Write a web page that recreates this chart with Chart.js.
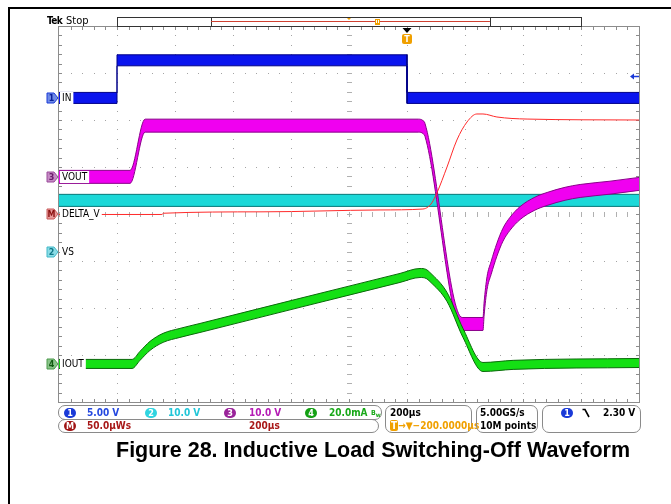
<!DOCTYPE html>
<html>
<head>
<meta charset="utf-8">
<title>Inductive Load Switching-Off Waveform</title>
<script src="https://cdn.jsdelivr.net/npm/chart.js@4.4.1/dist/chart.umd.min.js"></script>
<style>
  body { margin: 0; background: #fff; }
  #wrap { position: relative; width: 671px; height: 504px; overflow: hidden;
          font-family: "DejaVu Sans Condensed", "DejaVu Sans", sans-serif; }
  #scope { position: absolute; left: 0; top: 0; }
  .frame { position: absolute; left: 8px; top: 7px; width: 700px; height: 600px;
           border-left: 2px solid #000; border-top: 2px solid #000; }
  .box { position: absolute; border: 1px solid #8a8a8a; border-radius: 7px; box-sizing: border-box; }
  .t { position: absolute; font-size: 10px; font-weight: bold; line-height: 12px; white-space: nowrap;
       font-stretch: condensed; }
  .dot { position: absolute; width: 12px; height: 10px; border-radius: 6px; color: #fff; text-align: center;
         font-size: 9px; line-height: 10px; font-weight: bold; }
  #title { position: absolute; left: 116px; top: 440px; white-space: nowrap;
           font: bold 21.5px "Liberation Sans", Arial, sans-serif; line-height: 21px; }
</style>
</head>
<body>
<div id="wrap">
  <div class="frame"></div>
  <canvas id="scope" width="671" height="504"></canvas>

  <div class="t" style="left:47px;top:15px;font-size:10px;letter-spacing:-0.6px;">Tek</div>
  <div class="t" style="left:66px;top:15px;font-size:11px;font-weight:normal;font-family:'DejaVu Sans';">Stop</div>

  <!-- réglages des voies -->
  <div class="box" style="left:58px;top:405px;width:324px;height:15px;"></div>
  <div class="box" style="left:58px;top:419px;width:321px;height:14px;"></div>
  <div class="dot" style="left:64px;top:408px;background:#1a3ad8;">1</div>
  <div class="t" style="left:87px;top:407px;color:#2448e0;">5.00 V</div>
  <div class="dot" style="left:145px;top:408px;background:#30d4e0;">2</div>
  <div class="t" style="left:168px;top:407px;color:#22c6d8;">10.0 V</div>
  <div class="dot" style="left:224px;top:408px;background:#9a249a;">3</div>
  <div class="t" style="left:249px;top:407px;color:#b41cb4;">10.0 V</div>
  <div class="dot" style="left:305px;top:408px;background:#14a014;">4</div>
  <div class="t" style="left:329px;top:407px;color:#18a818;">20.0mA</div>
  <div class="t" style="left:371px;top:407px;color:#18a818;font-size:7px;">B<sub style="font-size:6px">w</sub></div>
  <div class="dot" style="left:64px;top:421px;background:#a01414;">M</div>
  <div class="t" style="left:87px;top:420px;color:#a81818;">50.0µWs</div>
  <div class="t" style="left:249px;top:420px;color:#a81818;">200µs</div>

  <!-- base de temps -->
  <div class="box" style="left:385px;top:405px;width:87px;height:28px;"></div>
  <div class="t" style="left:390px;top:407px;color:#000;">200µs</div>
  <div class="t" style="left:390px;top:420px;color:#f0a000;"><span style="background:#f0a000;color:#fff;border-radius:2px;padding:0 1px;">T</span>→▼−200.0000µs</div>
  <div class="box" style="left:476px;top:405px;width:62px;height:28px;"></div>
  <div class="t" style="left:480px;top:407px;color:#000;">5.00GS/s</div>
  <div class="t" style="left:480px;top:420px;color:#000;">10M points</div>

  <!-- déclenchement -->
  <div class="box" style="left:542px;top:405px;width:99px;height:28px;"></div>
  <div class="dot" style="left:561px;top:408px;background:#1a3ad8;">1</div>
  <svg style="position:absolute;left:582px;top:408px;" width="9" height="10"><path d="M0.5 1.5 H3 L7 9" stroke="#000" stroke-width="1.6" fill="none"/></svg>
  <div class="t" style="left:603px;top:407px;color:#000;">2.30 V</div>

  <div id="title">Figure 28. Inductive Load Switching-Off Waveform</div>
</div>

<script>
// Base de temps : 200 µs/div, déclenchement à t = 0, écran de -1200 µs à +800 µs
const timeMin = -1200;
const timeMax = 800;

// Réglages des voies : unités/div et position (div depuis le centre de l'écran)
const ch1Scale = 5,   ch1Pos = 2.47;   // IN (V)
const ch2Scale = 10,  ch2Pos = -0.81;  // VS (V)
const ch3Scale = 10,  ch3Pos = 0.79;   // VOUT (V)
const ch4Scale = 20,  ch4Pos = -3.19;  // IOUT (mA)
const mathScale = 50, mathPos = 0;     // DELTA_V (µWs)
const trigLevel = 2.30;                // V sur la voie 1

// Voie 1 : IN
const inTime = [-1200, -1000, -1000, 0, 0, 800];
const inVolt = [0, 0, 4.0, 4.0, 0, 0];

// Voie 2 : VS
const vsTime = [-1200, 800];
const vsVolt = [11.0, 11.0];

// Voie 3 : VOUT
const voutTime = [-1200, -955, -903, 40, 55, 62, 190, 262, 266, 276, 290, 310, 331, 355, 390, 441, 483, 545, 597, 700, 800];
const voutVolt = [0, 0, 10.9, 10.9, 10.6, 10.0, -31.3, -31.3, -28, -22.6, -19.4, -15.5, -12.3, -10.0, -7.7, -5.7, -4.7, -3.6, -3.0, -2.3, -1.5];

// Voie 4 : IOUT
const ioutTime = [-1200, -948, -921, -886, -841, -783, -714, -369, -24, 45, 66, 79, 138, 193, 262, 366, 800];
const ioutMA   = [0, 0, 3.4, 7.7, 11.1, 13.2, 15.3, 26.0, 36.6, 38.7, 38.3, 37.0, 28.5, 13.2, -1.3, -0.4, 0.4];

// Math : DELTA_V
const dvTime = [-1200, -845, -840, -500, -93, 55, 72, 86, 103, 138, 172, 207, 241, 262, 310, 414, 800];
const dvVal  = [-0.5, -0.5, 0.8, 2.3, 4.3, 5.3, 7.4, 12, 22.3, 50, 78.7, 97.9, 106.4, 106.4, 103.2, 101, 100];

// Repères à gauche de l'écran
const chMarkers = [
  { name: 'IN',      num: '1', axis: 'y1', fill: '#6f8be6', edge: '#1a3ad8', ink: '#0a1f9a' },
  { name: 'VOUT',    num: '3', axis: 'y3', fill: '#c48ac4', edge: '#9a4a9a', ink: '#6a1a6a' },
  { name: 'DELTA_V', num: 'M', axis: 'ym', fill: '#e89a9a', edge: '#c85a5a', ink: '#8a1010' },
  { name: 'VS',      num: '2', axis: 'y2', fill: '#8adce6', edge: '#40b8c8', ink: '#107888' },
  { name: 'IOUT',    num: '4', axis: 'y4', fill: '#8ac48a', edge: '#4a9a4a', ink: '#105a10' }
];

function axisRange(scale, pos) {
  return { type: 'linear', display: false, min: (-4 - pos) * scale, max: (4 - pos) * scale };
}

function toPoints(xs, ys, off) {
  return xs.map((x, i) => ({ x: x, y: ys[i] + off }));
}

// Trace "bruitée" : bande remplie entre deux enveloppes (demi-largeur en unités de la voie)
function bandDatasets(label, xs, ys, half, axis, fillCol, edgeCol, mode) {
  const common = { yAxisID: axis, borderColor: edgeCol, borderWidth: 1, pointRadius: 0,
                   cubicInterpolationMode: mode, tension: 0 };
  return [
    Object.assign({ label: label + ' haut', data: toPoints(xs, ys, half), fill: false }, common),
    Object.assign({ label: label + ' bas', data: toPoints(xs, ys, -half), fill: '-1', backgroundColor: fillCol }, common)
  ];
}

// Réticule de l'oscilloscope
const graticule = {
  id: 'graticule',
  beforeDatasetsDraw(chart) {
    const { ctx, chartArea: a } = chart;
    const w = a.right - a.left, h = a.bottom - a.top;
    const dx = w / 10, dy = h / 8;
    ctx.save();
    ctx.fillStyle = '#a4a4a4';
    for (let i = 1; i < 10; i++) {
      const x = Math.round(a.left + i * dx);
      for (let j = 0; j <= 40; j++) ctx.fillRect(x, Math.round(a.top + j * dy / 5), 1, 1);
    }
    for (let i = 1; i < 8; i++) {
      const y = Math.round(a.top + i * dy);
      for (let j = 0; j <= 50; j++) ctx.fillRect(Math.round(a.left + j * dx / 5), y, 1, 1);
    }
    // axes centraux avec graduations
    const cx = Math.round(a.left + 5 * dx), cy = Math.round(a.top + 4 * dy);
    ctx.fillStyle = '#b0b0b0';
    for (let j = 0; j <= 40; j++) ctx.fillRect(cx - 2, Math.round(a.top + j * dy / 5), 5, 1);
    for (let j = 0; j <= 50; j++) ctx.fillRect(Math.round(a.left + j * dx / 5), cy - 2, 1, 5);
    // cadre et graduations du bord
    ctx.fillStyle = '#8c8c8c';
    ctx.fillRect(a.left - 1, a.top, 1, h + 1);
    ctx.fillRect(a.right, a.top, 1, h + 1);
    ctx.fillRect(a.left - 1, a.top, w + 2, 1);
    ctx.fillRect(a.left - 1, a.bottom, w + 2, 1);
    for (let j = 1; j < 40; j++) {
      const y = Math.round(a.top + j * dy / 5);
      ctx.fillRect(a.left, y, 3, 1);
      ctx.fillRect(a.right - 3, y, 3, 1);
    }
    for (let j = 1; j < 50; j++) {
      const x = Math.round(a.left + j * dx / 5);
      ctx.fillRect(x, a.top + 1, 1, 3);
      ctx.fillRect(x, a.bottom - 3, 1, 3);
    }
    ctx.restore();
  }
};

// Repères de voies, déclenchement, barre d'enregistrement
const overlay = {
  id: 'overlay',
  afterDatasetsDraw(chart) {
    const { ctx, chartArea: a, scales } = chart;
    const dx = (a.right - a.left) / 10;
    ctx.save();

    // barre d'enregistrement en haut
    const bl = a.left + dx, br = a.left + 9 * dx, bt = a.top - 9;
    ctx.fillStyle = '#fff';
    ctx.fillRect(bl, bt, br - bl, 9);
    ctx.strokeStyle = '#333';
    ctx.lineWidth = 1;
    ctx.strokeRect(bl + 0.5, bt + 0.5, br - bl, 9);
    const il = a.left + 2.62 * dx, ir = a.left + 7.43 * dx;
    ctx.beginPath();
    ctx.moveTo(Math.round(il) + 0.5, bt); ctx.lineTo(Math.round(il) + 0.5, bt + 9);
    ctx.moveTo(Math.round(ir) + 0.5, bt); ctx.lineTo(Math.round(ir) + 0.5, bt + 9);
    ctx.stroke();
    ctx.strokeStyle = '#d04030';
    ctx.beginPath();
    ctx.moveTo(il, bt + 4.5); ctx.lineTo(ir, bt + 4.5);
    ctx.stroke();
    ctx.fillStyle = '#f0a000';
    const mc = a.left + 5 * dx;
    ctx.beginPath();
    ctx.moveTo(mc - 2, bt + 1); ctx.lineTo(mc + 2, bt + 1); ctx.lineTo(mc, bt + 3); ctx.fill();
    const hx = Math.round(a.left + 5.48 * dx);
    ctx.fillRect(hx - 2, bt + 2, 5, 6);
    ctx.fillStyle = '#fff';
    ctx.fillRect(hx - 1, bt + 3, 3, 3);
    ctx.fillStyle = '#f0a000';
    ctx.fillRect(hx, bt + 3, 1, 3);

    // position du déclenchement
    const tx = Math.round(scales.x.getPixelForValue(0));
    ctx.fillStyle = '#000';
    ctx.beginPath();
    ctx.moveTo(tx - 4.5, a.top + 2); ctx.lineTo(tx + 4.5, a.top + 2); ctx.lineTo(tx, a.top + 7); ctx.fill();
    ctx.fillStyle = '#f0a000';
    ctx.beginPath();
    ctx.roundRect(tx - 5, a.top + 8, 10, 10, 2);
    ctx.fill();
    ctx.fillStyle = '#fff';
    ctx.font = 'bold 8px "DejaVu Sans"';
    ctx.textAlign = 'center';
    ctx.textBaseline = 'middle';
    ctx.fillText('T', tx, a.top + 13.5);

    // niveau de déclenchement (voie 1)
    const ty = Math.round(scales.y1.getPixelForValue(trigLevel)) + 0.5;
    ctx.strokeStyle = '#1a3ad8';
    ctx.fillStyle = '#1a3ad8';
    ctx.lineWidth = 1.5;
    ctx.beginPath();
    ctx.moveTo(a.right - 6, ty); ctx.lineTo(a.right, ty); ctx.stroke();
    ctx.beginPath();
    ctx.moveTo(a.right - 9, ty); ctx.lineTo(a.right - 5, ty - 3); ctx.lineTo(a.right - 5, ty + 3); ctx.fill();

    // repères de masse et noms des voies
    ctx.textAlign = 'left';
    chMarkers.forEach(m => {
      const y = Math.round(scales[m.axis].getPixelForValue(0));
      ctx.font = '10px "DejaVu Sans Condensed", "DejaVu Sans", sans-serif';
      const tw = ctx.measureText(m.name).width;
      ctx.fillStyle = '#fff';
      ctx.fillRect(a.left + 1, y - 6, tw + 4, 12);
      ctx.fillStyle = '#000';
      ctx.fillText(m.name, a.left + 3, y + 0.5);
      const l = a.left - 1;
      ctx.beginPath();
      ctx.moveTo(l - 11, y - 5); ctx.lineTo(l - 4, y - 5); ctx.lineTo(l, y);
      ctx.lineTo(l - 4, y + 5); ctx.lineTo(l - 11, y + 5); ctx.closePath();
      ctx.fillStyle = m.fill;
      ctx.fill();
      ctx.strokeStyle = m.edge;
      ctx.lineWidth = 1;
      ctx.stroke();
      ctx.fillStyle = m.ink;
      ctx.font = 'bold 8px "DejaVu Sans"';
      ctx.textAlign = 'center';
      ctx.fillText(m.num, l - 6.5, y + 0.5);
      ctx.textAlign = 'left';
    });
    ctx.restore();
  }
};

const datasets = [
  { label: 'DELTA_V', data: toPoints(dvTime, dvVal, 0), yAxisID: 'ym', borderColor: '#ff2a2a',
    borderWidth: 1, pointRadius: 0, fill: false, cubicInterpolationMode: 'monotone' },
  ...bandDatasets('IOUT', ioutTime, ioutMA, 0.096 * ch4Scale, 'y4', '#14e014', '#0a6a0a', 'monotone'),
  ...bandDatasets('VOUT', voutTime, voutVolt, 0.138 * ch3Scale, 'y3', '#f000f0', '#8a008a', 'monotone'),
  ...bandDatasets('VS', vsTime, vsVolt, 0.128 * ch2Scale, 'y2', '#1cd8d8', '#087878', 'default'),
  ...bandDatasets('IN', inTime, inVolt, 0.117 * ch1Scale, 'y1', '#0a14ee', '#000088', 'default')
];

new Chart(document.getElementById('scope').getContext('2d'), {
  type: 'line',
  data: { datasets: datasets },
  options: {
    responsive: false,
    animation: false,
    events: [],
    layout: { padding: { left: 59, right: 32, top: 26, bottom: 102 } },
    scales: {
      x: { type: 'linear', display: false, min: timeMin, max: timeMax },
      y1: axisRange(ch1Scale, ch1Pos),
      y2: axisRange(ch2Scale, ch2Pos),
      y3: axisRange(ch3Scale, ch3Pos),
      y4: axisRange(ch4Scale, ch4Pos),
      ym: axisRange(mathScale, mathPos)
    },
    plugins: {
      legend: { display: false },
      tooltip: { enabled: false },
      title: { display: false }
    }
  },
  plugins: [graticule, overlay]
});
</script>
</body>
</html>
